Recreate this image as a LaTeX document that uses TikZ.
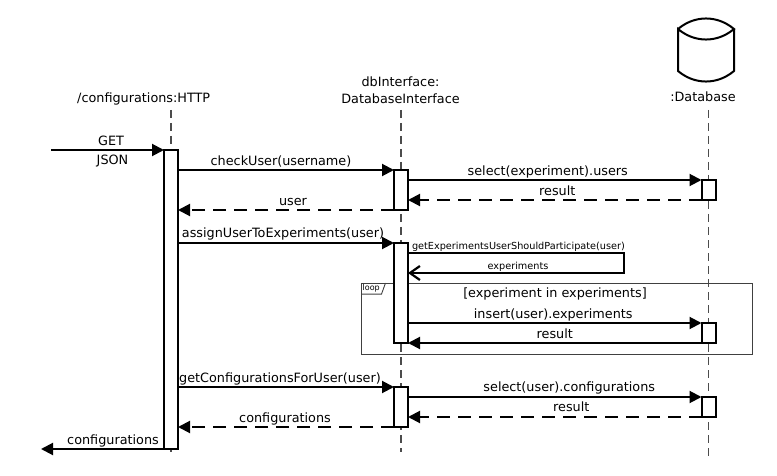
\documentclass[tikz,border=0pt]{standalone}
\usepackage{fontspec}
\setmainfont{DejaVu Sans}
\usetikzlibrary{arrows.meta}

\newcommand{\msgfont}{\fontsize{12.8}{16.7}\selectfont}
\newcommand{\selffont}{\fontsize{9.7}{11}\selectfont}
\newcommand{\tagfont}{\fontsize{8}{9}\selectfont}

\tikzset{
  lifeline/.style={draw=black!70, line width=1.2pt, dash pattern=on 8pt off 5pt},
  activation/.style={draw, fill=white, line width=2pt, minimum width=14pt, inner sep=0pt, outer sep=0pt},
  call/.style={line width=2pt, -{Triangle[length=12pt,width=12pt]}},
  reply/.style={call, dash pattern=on 13pt off 8pt},
  selfreply/.style={line width=2pt, -{Straight Barb[length=10pt,width=14pt,line width=2.2pt]}},
  msglabel/.style={anchor=base, inner sep=0pt, yshift=4.5pt},
  frame/.style={draw=black!75, line width=0.9pt},
}

\begin{document}
\begin{tikzpicture}[x=1pt, y=-1pt, font=\msgfont]
\useasboundingbox (0,0) rectangle (777,476);

% Heads
\node[anchor=base] (http) at (143.7,103) {/configurations:HTTP};
\node[anchor=south, align=center, inner sep=0pt] (dbi) at (400.5,103.7) {dbInterface:\\DatabaseInterface};
\node[anchor=base] (db) at (703,101.7) {:Database};

% Database cylinder
\draw[line width=2pt] (678,29) to[bend left=40] (734,29) to[bend left=40] (678,29)
  -- (678,71) to[bend right=40] (734,71) -- (734,29);

% Lifelines
\coordinate (httpTop) at (171,110);   \coordinate (httpEnd) at (171,452);
\coordinate (dbiTop) at (401,110);    \coordinate (dbiEnd) at (401,452);
\coordinate (dbTop) at (708.5,110);   \coordinate (dbEnd) at (708.5,457);
\foreach \l in {http,dbi,db}
  \draw[lifeline] (\l Top) -- (\l End);

% Loop frame
\node[frame, anchor=north west, minimum width=391pt, minimum height=71pt, inner sep=0pt] (loop) at (361,283) {};
\node[anchor=north west, font=\tagfont, inner sep=1.5pt] (tag) at (loop.north west) {loop};
\draw[frame] (tag.south west) -- (tag.south east) -- ([xshift=4pt]tag.north east);
\node[anchor=base] (guard) at (555,297) {[experiment in experiments]};

% Activations
\node[activation, minimum height=299pt] (a1) at (171,299.5) {};
\node[activation, minimum height=40pt] (b1) at (401,190) {};
\node[activation, minimum height=100pt] (b2) at (401,293) {};
\node[activation, minimum height=40pt] (b3) at (401,407) {};
\node[activation, minimum height=20pt] (c1) at (708.5,190) {};
\node[activation, minimum height=20pt] (c2) at (708.5,333) {};
\node[activation, minimum height=20pt] (c3) at (708.5,407) {};

% Request in and out
\coordinate (in) at (51,150);
\coordinate (out) at (41,449);
\draw[call] (in) -- (a1.north west)
  node[msglabel, midway, xshift=3.5pt] {GET}
  node[anchor=base, inner sep=0pt, midway, xshift=5pt, yshift=-14.3pt] {JSON};
\draw[call] (a1.south west) -- (out) node[msglabel, midway, xshift=10.5pt] {configurations};

% checkUser
\draw[call] (a1.east |- b1.north) -- (b1.north west) node[msglabel, midway, xshift=-5pt] {checkUser(username)};
\draw[call] (b1.east |- c1.north) -- (c1.north west) node[msglabel, midway, xshift=-7pt] {select(experiment).users};
\draw[reply] (c1.south west) -- (b1.east |- c1.south) node[msglabel, midway, xshift=2.5pt] {result};
\draw[reply] (b1.south west) -- (a1.east |- b1.south) node[msglabel, midway, xshift=7pt] {user};

% assignUserToExperiments
\draw[call] (a1.east |- b2.north) -- (b2.north west) node[msglabel, midway, xshift=-3pt, yshift=1.5pt] {assignUserToExperiments(user)};
\coordinate (s1) at (624,253);
\coordinate (s2) at (624,273);
\draw[selfreply] (b2.east |- s1)
  -- node[pos=0, anchor=base west, font=\selffont, inner sep=0pt, xshift=3pt, yshift=3.7pt] {getExperimentsUserShouldParticipate(user)} (s1)
  -- (s2)
  -- node[midway, anchor=base, font=\selffont, inner sep=0pt, xshift=2pt, yshift=3.7pt] {experiments} (b2.east |- s2);
\draw[call] (b2.east |- c2.north) -- (c2.north west) node[msglabel, midway, xshift=-1.5pt] {insert(user).experiments};
\draw[call] (c2.south west) -- (b2.east |- c2.south) node[msglabel, midway] {result};

% getConfigurationsForUser
\draw[call] (a1.east |- b3.north) -- (b3.north west) node[msglabel, midway, xshift=-6pt] {getConfigurationsForUser(user)};
\draw[call] (b3.east |- c3.north) -- (c3.north west) node[msglabel, midway, xshift=14.5pt, yshift=1pt] {select(user).configurations};
\draw[reply] (c3.south west) -- (b3.east |- c3.south) node[msglabel, midway, xshift=16.5pt, yshift=1pt] {result};
\draw[reply] (b3.south west) -- (a1.east |- b3.south) node[msglabel, midway, xshift=-1pt] {configurations};
\end{tikzpicture}
\end{document}
